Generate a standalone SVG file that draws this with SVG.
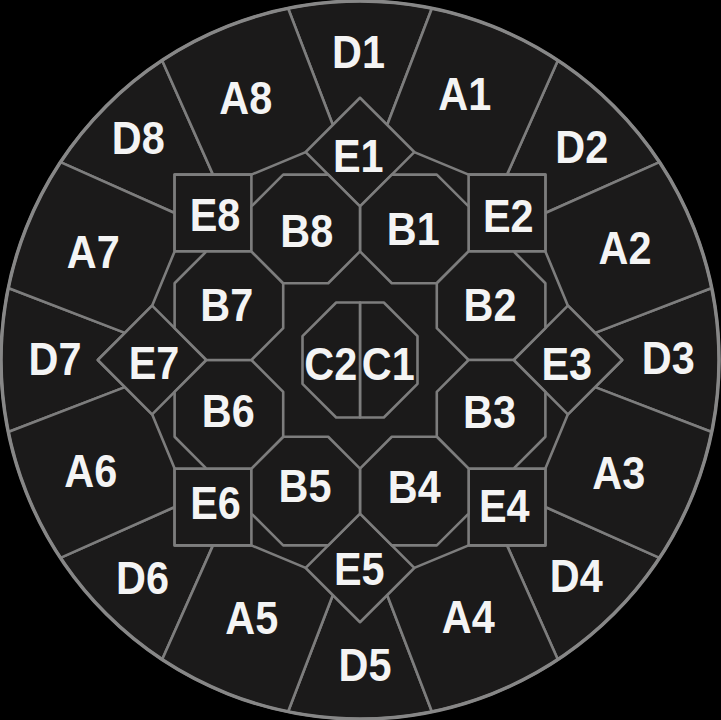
<svg xmlns="http://www.w3.org/2000/svg" xmlns:xlink="http://www.w3.org/1999/xlink" width="721" height="720" viewBox="0 0 721 720">
<style>
.reg use,.reg path{fill:#1b1a1a;stroke:#7d7d7d;stroke-width:2.6;stroke-linejoin:round}
.lbl{font-family:"Liberation Sans",Arial,sans-serif;font-weight:bold;font-size:46px;fill:#f4f4f4;stroke:none;text-anchor:middle}
</style>
<defs>
<polygon id="bShape" points="31.81,-185.39 76.79,-185.39 108.6,-153.58 108.6,-108.6 76.79,-76.79 31.81,-76.79 0,-108.6 0,-153.58"/>
<polygon id="eShape" points="0,-153.58 54.3,-207.88 0,-262.18 -54.3,-207.88"/>
<path id="dShape" d="M-27.15,-235.03 L0,-262.18 L27.15,-235.03 L71.94,-351.72 A359 359 0 0 0 -71.94,-351.72 Z"/>
<path id="aShape" d="M27.15,-235.03 L54.3,-207.88 L108.6,-185.39 L147,-185.39 L197.84,-299.57 A359 359 0 0 0 71.94,-351.72 Z"/>
</defs>
<rect width="721" height="720" fill="#000"/>
<circle cx="360" cy="360" r="359" fill="#1b1a1a"/>
<g class="reg">
<g id="D1"><use xlink:href="#dShape" transform="translate(360 360) rotate(0)"/><text class="lbl" transform="translate(358.5 67.5) scale(0.9 1)">D1</text></g>
<g id="D2"><use xlink:href="#dShape" transform="translate(360 360) rotate(45)"/><text class="lbl" transform="translate(581.7 163) scale(0.9 1)">D2</text></g>
<g id="D3"><use xlink:href="#dShape" transform="translate(360 360) rotate(90)"/><text class="lbl" transform="translate(668.3 374) scale(0.9 1)">D3</text></g>
<g id="D4"><use xlink:href="#dShape" transform="translate(360 360) rotate(135)"/><text class="lbl" transform="translate(576.2 592) scale(0.9 1)">D4</text></g>
<g id="D5"><use xlink:href="#dShape" transform="translate(360 360) rotate(180)"/><text class="lbl" transform="translate(365 681) scale(0.9 1)">D5</text></g>
<g id="D6"><use xlink:href="#dShape" transform="translate(360 360) rotate(225)"/><text class="lbl" transform="translate(142.5 594) scale(0.9 1)">D6</text></g>
<g id="D7"><use xlink:href="#dShape" transform="translate(360 360) rotate(270)"/><text class="lbl" transform="translate(55 375) scale(0.9 1)">D7</text></g>
<g id="D8"><use xlink:href="#dShape" transform="translate(360 360) rotate(315)"/><text class="lbl" transform="translate(138.3 153.5) scale(0.9 1)">D8</text></g>
<g id="A1"><use xlink:href="#aShape" transform="translate(360 360) rotate(0)"/><text class="lbl" transform="translate(464.7 110) scale(0.9 1)">A1</text></g>
<g id="A2"><use xlink:href="#aShape" transform="translate(360 360) rotate(45)"/><text class="lbl" transform="translate(625 264) scale(0.9 1)">A2</text></g>
<g id="A3"><use xlink:href="#aShape" transform="translate(360 360) rotate(90)"/><text class="lbl" transform="translate(618.7 489) scale(0.9 1)">A3</text></g>
<g id="A4"><use xlink:href="#aShape" transform="translate(360 360) rotate(135)"/><text class="lbl" transform="translate(468.3 633) scale(0.9 1)">A4</text></g>
<g id="A5"><use xlink:href="#aShape" transform="translate(360 360) rotate(180)"/><text class="lbl" transform="translate(251.7 634) scale(0.9 1)">A5</text></g>
<g id="A6"><use xlink:href="#aShape" transform="translate(360 360) rotate(225)"/><text class="lbl" transform="translate(90.8 486.5) scale(0.9 1)">A6</text></g>
<g id="A7"><use xlink:href="#aShape" transform="translate(360 360) rotate(270)"/><text class="lbl" transform="translate(93.3 268) scale(0.9 1)">A7</text></g>
<g id="A8"><use xlink:href="#aShape" transform="translate(360 360) rotate(315)"/><text class="lbl" transform="translate(245.8 114) scale(0.9 1)">A8</text></g>
<g id="E1"><use xlink:href="#eShape" transform="translate(360 360) rotate(0)"/><text class="lbl" transform="translate(358.3 172) scale(0.9 1)">E1</text></g>
<g id="E2"><use xlink:href="#eShape" transform="translate(360 360) rotate(45)"/><text class="lbl" transform="translate(508.3 231.5) scale(0.9 1)">E2</text></g>
<g id="E3"><use xlink:href="#eShape" transform="translate(360 360) rotate(90)"/><text class="lbl" transform="translate(566.7 380) scale(0.9 1)">E3</text></g>
<g id="E4"><use xlink:href="#eShape" transform="translate(360 360) rotate(135)"/><text class="lbl" transform="translate(504.2 521.5) scale(0.9 1)">E4</text></g>
<g id="E5"><use xlink:href="#eShape" transform="translate(360 360) rotate(180)"/><text class="lbl" transform="translate(359.2 585) scale(0.9 1)">E5</text></g>
<g id="E6"><use xlink:href="#eShape" transform="translate(360 360) rotate(225)"/><text class="lbl" transform="translate(215.5 519) scale(0.9 1)">E6</text></g>
<g id="E7"><use xlink:href="#eShape" transform="translate(360 360) rotate(270)"/><text class="lbl" transform="translate(154 378.5) scale(0.9 1)">E7</text></g>
<g id="E8"><use xlink:href="#eShape" transform="translate(360 360) rotate(315)"/><text class="lbl" transform="translate(215 230.5) scale(0.9 1)">E8</text></g>
<g id="B1"><use xlink:href="#bShape" transform="translate(360 360) rotate(0)"/><text class="lbl" transform="translate(413.3 245) scale(0.9 1)">B1</text></g>
<g id="B2"><use xlink:href="#bShape" transform="translate(360 360) rotate(45)"/><text class="lbl" transform="translate(490 321) scale(0.9 1)">B2</text></g>
<g id="B3"><use xlink:href="#bShape" transform="translate(360 360) rotate(90)"/><text class="lbl" transform="translate(489.5 428) scale(0.9 1)">B3</text></g>
<g id="B4"><use xlink:href="#bShape" transform="translate(360 360) rotate(135)"/><text class="lbl" transform="translate(414.2 503) scale(0.9 1)">B4</text></g>
<g id="B5"><use xlink:href="#bShape" transform="translate(360 360) rotate(180)"/><text class="lbl" transform="translate(305 502) scale(0.9 1)">B5</text></g>
<g id="B6"><use xlink:href="#bShape" transform="translate(360 360) rotate(225)"/><text class="lbl" transform="translate(228.3 427) scale(0.9 1)">B6</text></g>
<g id="B7"><use xlink:href="#bShape" transform="translate(360 360) rotate(270)"/><text class="lbl" transform="translate(226.7 321) scale(0.9 1)">B7</text></g>
<g id="B8"><use xlink:href="#bShape" transform="translate(360 360) rotate(315)"/><text class="lbl" transform="translate(306.7 246.5) scale(0.9 1)">B8</text></g>
<g id="C1"><path d="M360,302.5 L383.82,302.5 L417.5,336.18 L417.5,383.82 L383.82,417.5 L360,417.5 Z"/><text class="lbl" transform="translate(388.3 380) scale(0.9 1)">C1</text></g>
<g id="C2"><path d="M360,302.5 L336.18,302.5 L302.5,336.18 L302.5,383.82 L336.18,417.5 L360,417.5 Z"/><text class="lbl" transform="translate(330.8 380) scale(0.9 1)">C2</text></g>
</g>
<circle cx="360" cy="360" r="359" fill="none" stroke="#878787" stroke-width="3.5"/>
</svg>
